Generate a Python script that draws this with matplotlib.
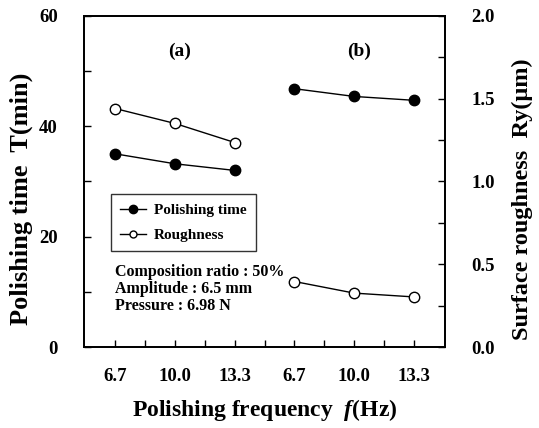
import numpy as np
import matplotlib.pyplot as plt
from matplotlib.ticker import MultipleLocator, FixedLocator
from matplotlib.lines import Line2D

plt.rcParams['font.family'] = ['Liberation Serif', 'DejaVu Serif']
plt.rcParams['font.weight'] = 'bold'
plt.rcParams['mathtext.fontset'] = 'custom'
plt.rcParams['mathtext.it'] = 'Liberation Serif:bold:italic'
plt.rcParams['mathtext.rm'] = 'Liberation Serif:bold'

# frequencies for the two groups (a) and (b)
freq_labels = ['6.7', '10.0', '13.3', '6.7', '10.0', '13.3']
pos_a = [0, 2, 4]
pos_b = [6, 8, 10]

# polishing time T (min)
time_a = [35.0, 33.2, 32.0]
time_b = [46.8, 45.4, 44.7]

# surface roughness Ry (um)
rough_a = [1.44, 1.35, 1.235]
rough_b = [0.396, 0.326, 0.303]

fig = plt.figure(figsize=(5.39, 4.28), dpi=100)
ax = fig.add_axes([0.156, 0.189, 0.670, 0.774])
ax2 = ax.twinx()

mk = dict(color='black', lw=1.0, marker='o', markersize=7.5, markeredgewidth=1.0)
ax.plot(pos_a, time_a, markerfacecolor='black', **mk)
ax.plot(pos_b, time_b, markerfacecolor='black', **mk)
ax2.plot(pos_a, rough_a, markerfacecolor='white', **mk)
ax2.plot(pos_b, rough_b, markerfacecolor='white', **mk)

ax.set_xlim(-1.05, 11.05)
ax.set_ylim(0, 60)
ax2.set_ylim(0, 2.0)

ax.set_xticks(pos_a + pos_b)
ax.set_xticklabels(freq_labels)
ax.xaxis.set_minor_locator(FixedLocator([1, 3, 5, 7, 9]))
ax.yaxis.set_major_locator(MultipleLocator(20))
ax.yaxis.set_minor_locator(MultipleLocator(10))
ax2.yaxis.set_major_locator(MultipleLocator(0.5))
ax2.yaxis.set_minor_locator(MultipleLocator(0.25))
ax2.yaxis.set_major_formatter(plt.FormatStrFormatter('%.1f'))

ax.tick_params(axis='x', which='both', direction='in', length=5, width=1, pad=15, labelsize=13.5)
ax.tick_params(axis='y', which='both', direction='in', length=5, width=1, pad=19, labelsize=13.5)
ax2.tick_params(axis='y', which='both', direction='in', length=5, width=1, pad=19, labelsize=13.5)
for a in (ax, ax2):
    for s in a.spines.values():
        s.set_linewidth(1.3)

ax.set_xlabel(r'Polishing frequency  $f$(Hz)', fontsize=17, fontweight='bold', labelpad=9)
ax.set_ylabel('Polishing time  T(min)', fontsize=19, fontweight='bold', labelpad=4)
ax2.set_ylabel('Surface roughness  Ry(μm)', fontsize=17.5, fontweight='bold', labelpad=12)
# both side titles sit a bit below the axes centre in the original
ax.yaxis.label.set_y(0.447)
ax2.yaxis.label.set_y(0.447)

ax.text(2.15, 53.5, '(a)', fontsize=14, fontweight='bold', ha='center', va='center')
ax.text(8.15, 53.5, '(b)', fontsize=14, fontweight='bold', ha='center', va='center')

ax.text(0.0, 10.5, 'Composition ratio : 50%\nAmplitude : 6.5 mm\nPressure : 6.98 N',
        fontsize=11.5, fontweight='bold', va='center', ha='left', linespacing=1.1)

handles = [
    Line2D([], [], color='black', lw=1.0, marker='o', markersize=6, markerfacecolor='black'),
    Line2D([], [], color='black', lw=1.0, marker='o', markersize=5, markerfacecolor='white'),
]
leg = ax.legend(handles, ['Polishing time', 'Roughness'], loc='upper left',
                bbox_to_anchor=(0.075, 0.462), borderaxespad=0, fontsize=11,
                frameon=True, fancybox=False, handlelength=1.7, handletextpad=0.5,
                borderpad=0.6, labelspacing=0.75)
leg.get_frame().set_edgecolor('black')
leg.get_frame().set_linewidth(1.0)

fig.savefig('out.png', dpi=100)
